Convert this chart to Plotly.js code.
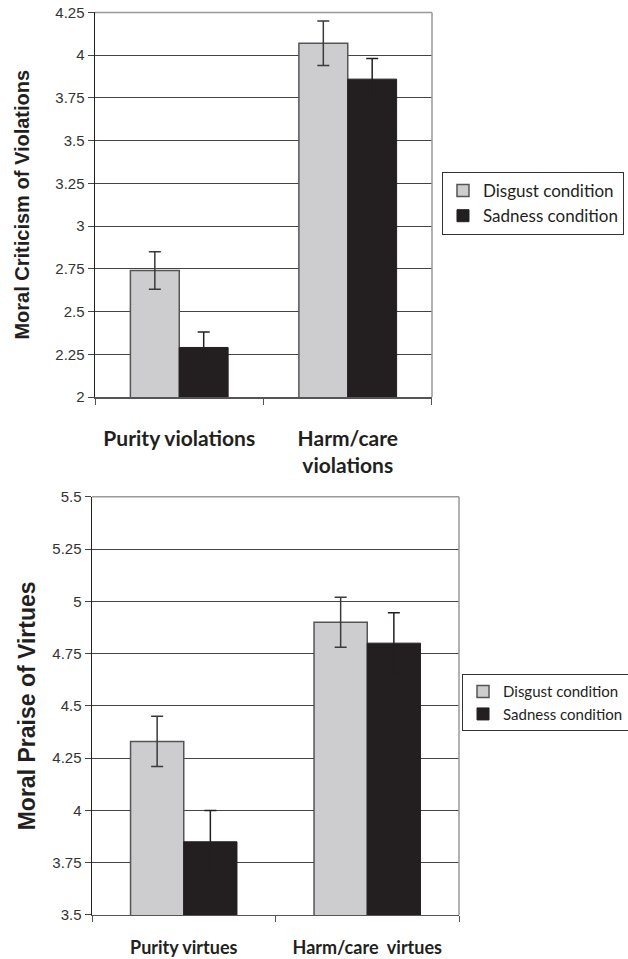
<!DOCTYPE html>
<html>
<head>
<meta charset="utf-8">
<script src="https://cdn.plot.ly/plotly-3.0.1.min.js"></script>
<style>html,body{margin:0;padding:0;background:#fff;}#chart{width:628px;height:959px;}</style>
</head>
<body>
<div id="chart"></div>
<script>
// Top panel: moral criticism of violations
var categoriesTop = ["Purity violations", "Harm/care<br>violations"];
var disgustTop = [2.74, 4.07];
var disgustTopErr = [0.11, 0.13];
var sadnessTop = [2.29, 3.86];
var sadnessTopErr = [0.09, 0.12];
var tickValsTop = [2, 2.25, 2.5, 2.75, 3, 3.25, 3.5, 3.75, 4, 4.25];
var tickTextTop = ["2", "2.25", "2.5", "2.75", "3", "3.25", "3.5", "3.75", "4", "4.25"];

// Bottom panel: moral praise of virtues
var categoriesBottom = ["Purity virtues", "Harm/care  virtues"];
var disgustBottom = [4.33, 4.90];
var disgustBottomErr = [0.12, 0.12];
var sadnessBottom = [3.85, 4.80];
var sadnessBottomErr = [0.15, 0.145];
var tickValsBottom = [3.5, 3.75, 4, 4.25, 4.5, 4.75, 5, 5.25, 5.5];
var tickTextBottom = ["3.5", "3.75", "4", "4.25", "4.5", "4.75", "5", "5.25", "5.5"];

var seriesNames = ["Disgust condition", "Sadness condition"];

var lightFill = "#cdcdcf", darkFill = "#231f20";
var errStyle = function(arr, col){ return {type:"data", array:arr, visible:true, color:col, thickness:1.5, width:6}; };
var catFontTop = {family:"Lato, 'Open Sans', sans-serif", size:21, color:"#231f20", weight:"bold"};
var catFontBottom = {family:"Lato, 'Open Sans', sans-serif", size:18, color:"#231f20", weight:"bold"};
var tickFont = {family:"'Liberation Sans', Arial, sans-serif", size:15, color:"#333"};
var legFontTop = {family:"Lato, 'Open Sans', sans-serif", size:17, color:"#231f20"};
var legFontBottom = {family:"Lato, 'Open Sans', sans-serif", size:15, color:"#231f20"};

var traces = [
  {type:"bar", x:categoriesTop, y:disgustTop, name:seriesNames[0], xaxis:"x", yaxis:"y", legend:"legend",
   marker:{color:lightFill, line:{color:"#555", width:1.5}}, error_y:errStyle(disgustTopErr, "#3a3a3a")},
  {type:"bar", x:categoriesTop, y:sadnessTop, name:seriesNames[1], xaxis:"x", yaxis:"y", legend:"legend",
   marker:{color:darkFill, line:{color:darkFill, width:1}}, error_y:errStyle(sadnessTopErr, darkFill)},
  {type:"bar", x:categoriesBottom, y:disgustBottom, name:seriesNames[0], xaxis:"x2", yaxis:"y2", legend:"legend2",
   marker:{color:lightFill, line:{color:"#555", width:1.5}}, error_y:errStyle(disgustBottomErr, "#3a3a3a")},
  {type:"bar", x:categoriesBottom, y:sadnessBottom, name:seriesNames[1], xaxis:"x2", yaxis:"y2", legend:"legend2",
   marker:{color:darkFill, line:{color:darkFill, width:1}}, error_y:errStyle(sadnessBottomErr, darkFill)}
];

var gridCol = "#444";
var layout = {
  width:628, height:959,
  margin:{l:0, r:0, t:0, b:0, autoexpand:false},
  paper_bgcolor:"#fff", plot_bgcolor:"#fff",
  barmode:"group", bargap:0.42, bargroupgap:0,
  showlegend:true,
  xaxis:{domain:[0.1513, 0.6879], anchor:"y", type:"category", automargin:false,
    showline:true, linecolor:"#555", linewidth:1.5,
    ticks:"outside", tickson:"boundaries", ticklen:6, tickcolor:"#555",
    showgrid:false, tickfont:catFontTop, ticklabelstandoff:22},
  yaxis:{domain:[0.586, 0.987], anchor:"x", range:[2, 4.25], automargin:false,
    tickvals:tickValsTop, ticktext:tickTextTop, tickfont:tickFont,
    ticks:"outside", ticklen:6, tickcolor:"#444",
    showline:true, linecolor:"#222", linewidth:1.5,
    showgrid:true, gridcolor:gridCol, gridwidth:1, zeroline:false,
    title:{text:"Moral Criticism of Violations", standoff:20,
      font:{family:"'Liberation Sans', Arial, sans-serif", size:20, color:"#231f20", weight:"bold"}}},
  xaxis2:{domain:[0.1465, 0.7309], anchor:"y2", type:"category", automargin:false,
    showline:true, linecolor:"#555", linewidth:1.5,
    ticks:"outside", tickson:"boundaries", ticklen:6, tickcolor:"#555",
    showgrid:false, tickfont:catFontBottom, ticklabelstandoff:16},
  yaxis2:{domain:[0.0459, 0.482], anchor:"x2", range:[3.5, 5.5], automargin:false,
    tickvals:tickValsBottom, ticktext:tickTextBottom, tickfont:tickFont,
    ticks:"outside", ticklen:6, tickcolor:"#444",
    showline:true, linecolor:"#222", linewidth:1.5,
    showgrid:true, gridcolor:gridCol, gridwidth:1, zeroline:false,
    title:{text:"Moral Praise of Virtues", standoff:10,
      font:{family:"'Liberation Sans', Arial, sans-serif", size:23, color:"#231f20", weight:"bold"}}},
  legend:{xref:"container", yref:"container", x:0.7038, y:0.8206, xanchor:"left", yanchor:"top",
    bordercolor:"#333", borderwidth:1, bgcolor:"#fff", font:legFontTop, traceorder:"normal", tracegroupgap:0, itemwidth:30},
  legend2:{xref:"container", yref:"container", x:0.7357, y:0.297, xanchor:"left", yanchor:"top",
    bordercolor:"#333", borderwidth:1, bgcolor:"#fff", font:legFontBottom, traceorder:"normal", tracegroupgap:0, itemwidth:30},
  shapes:[
    {type:"line", xref:"x domain", yref:"y domain", x0:1, x1:1, y0:0, y1:1, line:{color:"#999", width:1.5}},
    {type:"line", xref:"x domain", yref:"y domain", x0:0, x1:1, y0:1, y1:1, line:{color:"#999", width:1.5}},
    {type:"line", xref:"x2 domain", yref:"y2 domain", x0:1, x1:1, y0:0, y1:1, line:{color:"#999", width:1.5}},
    {type:"line", xref:"x2 domain", yref:"y2 domain", x0:0, x1:1, y0:1, y1:1, line:{color:"#999", width:1.5}}
  ]
};

Plotly.newPlot("chart", traces, layout, {displayModeBar:false, staticPlot:true});
</script>
</body>
</html>
